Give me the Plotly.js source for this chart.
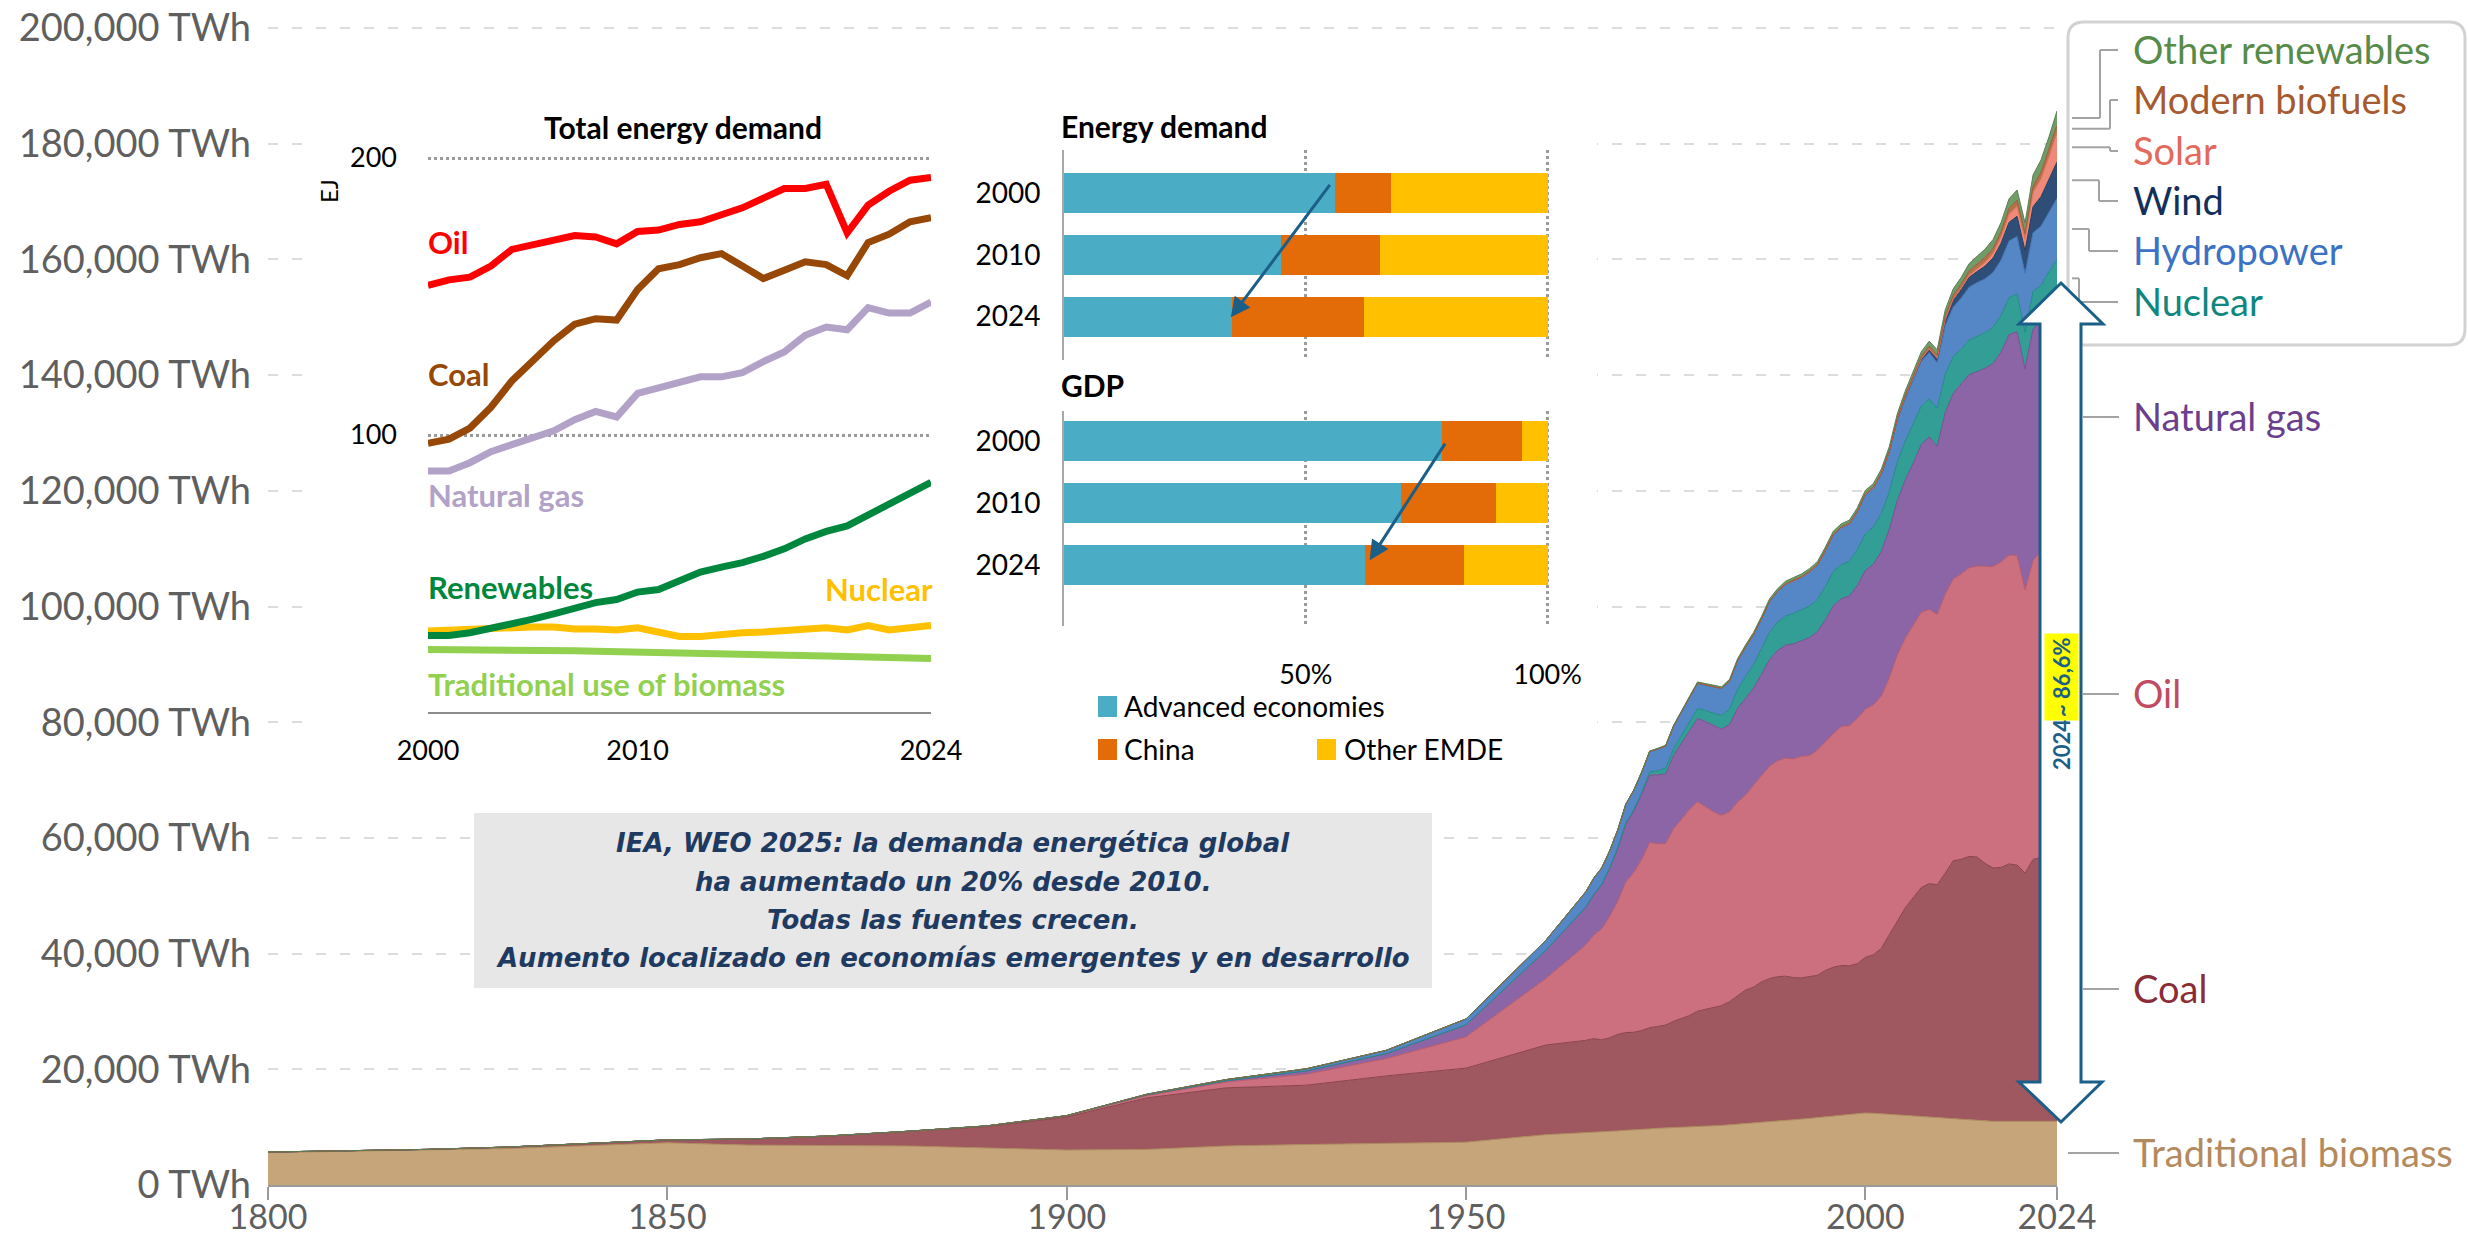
<!DOCTYPE html>
<html><head><meta charset="utf-8">
<script src="https://cdn.plot.ly/plotly-3.0.1.min.js"></script>
<style>html,body{margin:0;padding:0;background:#fff;}#chart{width:2468px;height:1241px;}</style>
</head><body><div id="chart"></div>
<script>
// ---------------- DATA ----------------
const years = [1800,1810,1820,1830,1840,1850,1860,1870,1880,1890,1900,1910,1920,1930,1940,1950,1960,
 1965,1966,1967,1968,1969,1970,1971,1972,1973,1974,1975,1976,1977,1978,1979,
 1980,1981,1982,1983,1984,1985,1986,1987,1988,1989,1990,1991,1992,1993,1994,1995,1996,1997,1998,1999,
 2000,2001,2002,2003,2004,2005,2006,2007,2008,2009,2010,2011,2012,2013,2014,2015,2016,2017,2018,2019,
 2020,2021,2022,2023,2024];

const tradBiomass = [5600,5800,6000,6300,6800,7300,6900,6800,6750,6400,6050,6150,6750,7000,7150,7400,8700,
 9000,9100,9200,9250,9350,9450,9500,9600,9700,9800,9850,9900,9950,10000,10050,
 10100,10200,10300,10400,10500,10600,10700,10800,10900,11000,11100,11250,11400,11500,11650,11800,11950,12050,12200,12350,
 12450,12400,12300,12250,12200,12100,12000,11900,11800,11700,11600,11450,11300,11200,11100,11000,11000,11000,11000,11000,
 11000,11000,11000,11000,11000];
const coal = [100,130,160,260,360,500,1050,1650,2500,3700,5700,8900,10050,10250,11700,12800,15500,
 16000,16200,15900,16200,16700,16900,16900,17100,17500,17600,17800,18400,18900,19300,20000,
 20300,20500,20700,21300,22200,23100,23500,24300,24800,25000,25000,24600,24400,24500,24600,25300,25700,25900,25700,25900,
 26900,27400,28600,31000,33400,35800,37700,39500,40300,40200,42300,44600,45000,45600,45600,44600,43800,43900,44500,44300,
 42900,45300,45600,46000,46200];
const oil = [0,0,0,0,0,0,0,10,30,90,180,380,1000,1900,3000,5400,11500,
 16500,17900,19200,21000,23000,26000,27600,29600,32000,31600,31400,33300,34500,35600,36200,
 35000,33800,32900,32800,33500,33700,34900,35600,36700,37300,37700,37800,38300,38200,38900,39500,40400,41300,41500,42400,
 42900,43200,43600,44400,46000,46600,47000,47600,47400,46700,48200,48700,49300,49900,50300,51300,52100,52800,53400,53500,
 49000,51600,53000,54600,55200];
const naturalGas = [0,0,0,0,0,0,0,0,0,30,60,150,230,580,870,2100,4900,
 6500,7000,7600,8300,9100,10000,10600,11200,11700,11900,12000,12700,13000,13600,14400,
 14700,14900,14900,15100,16200,16700,16800,17600,18400,19100,19500,19900,20000,20400,20500,21100,22100,22100,22400,23000,
 24000,24300,25000,25700,26700,27400,28100,29000,29800,29100,31400,32100,32900,33400,33600,34300,35100,36300,38100,38700,
 38200,40100,39700,40000,41100];
const nuclear = [0,0,0,0,0,0,0,0,0,0,0,0,0,0,0,0,0,
 70,90,110,140,170,220,300,400,530,680,1000,1150,1380,1630,1720,
 1880,2180,2360,2680,3250,3800,4100,4400,4750,4880,5020,5250,5300,5450,5550,5750,5950,5900,6000,6200,
 6300,6450,6550,6450,6700,6700,6800,6650,6600,6500,6650,6350,5950,6000,6100,6150,6250,6300,6400,6550,
 6300,6500,6150,6250,6450];
const hydropower = [0,0,0,0,0,0,0,0,0,0,0,100,200,350,550,1000,1700,
 2600,2750,2800,2900,3050,3200,3300,3450,3500,3800,3850,3900,4000,4200,4400,
 4500,4550,4700,4850,5000,5100,5150,5200,5350,5350,5500,5650,5650,5900,5950,6200,6300,6400,6450,6500,
 6750,6650,6750,6800,7150,7400,7650,7700,8000,7950,8400,8550,8850,9100,9300,9300,9500,9600,9800,9900,
 10200,10100,10300,10200,10600];
const wind = [0,0,0,0,0,0,0,0,0,0,0,0,0,0,0,0,0,
 0,0,0,0,0,0,0,0,0,0,0,0,0,0,0,
 0,0,0,0,0,0,0,0,0,0,10,10,10,20,20,20,30,30,40,60,
 80,100,140,170,220,270,340,430,560,700,950,1200,1450,1700,1900,2200,2500,2900,3200,3500,
 3900,4500,5100,5700,6300];
const solar = [0,0,0,0,0,0,0,0,0,0,0,0,0,0,0,0,0,
 0,0,0,0,0,0,0,0,0,0,0,0,0,0,0,
 0,0,0,0,0,0,0,0,0,0,0,0,0,0,0,0,0,0,0,0,
 3,4,5,7,9,12,16,22,35,55,85,170,260,360,480,640,820,1100,1400,1700,
 2000,2450,3100,4000,5100];
const modernBiofuels = [0,0,0,0,0,0,0,0,0,0,0,0,0,0,0,0,0,
 0,0,0,0,0,0,0,0,0,0,0,0,0,0,0,
 0,0,0,0,0,0,0,0,0,0,90,95,95,100,105,110,110,115,115,120,
 130,150,170,200,230,260,320,400,520,580,680,690,700,760,830,870,880,920,1020,1100,
 1000,1070,1130,1200,1250];
const otherRenewables = [0,0,0,0,0,0,0,0,0,0,0,0,0,0,0,0,0,
 40,45,50,55,60,70,80,90,100,110,120,130,150,170,190,
 200,220,250,280,310,340,360,380,400,420,440,450,460,470,480,490,500,510,520,530,
 560,580,610,640,680,720,760,800,850,900,1000,1080,1170,1260,1340,1420,1500,1580,1660,1740,
 1820,1960,2120,2260,2450];

const mainXTicks = [1800,1850,1900,1950,2000,2024];
const mainYTicks = [0,20000,40000,60000,80000,100000,120000,140000,160000,180000,200000];

// Inset: total energy demand (EJ)
const tedYears = [2000,2001,2002,2003,2004,2005,2006,2007,2008,2009,2010,2011,2012,2013,2014,2015,2016,2017,2018,2019,2020,2021,2022,2023,2024];
const tedOil = [154,156,157,161,167,168.5,170.5,172,171.5,169,173.5,174,176,177,179.5,182,185.5,189,189,190.5,173,183,188,192,193];
const tedCoal = [97,98.5,102.5,110,119.5,126.5,134,140,142,141.5,152.5,160,161.5,164,165.5,161,156.5,159.5,162.5,161.5,157.5,169.5,172.5,177,178.5];
const tedGas = [87,87,90,94,96.5,99,101.5,105.5,108.5,106.5,115,117,119,121,121,122.5,126.5,130,136,139,138,146,144,144,148];
const tedRenew = [27.6,27.6,28.6,30.1,32.0,33.5,35.4,37.5,39.5,40.6,43.3,44.2,47.3,50.5,52.3,53.9,56.2,58.9,62.5,65.2,67.2,71.1,75.1,78.6,82.9];
const tedNuclear = [29.2,29.6,30.0,30.4,30.7,30.7,30.7,30.0,30.0,29.6,30.4,28.6,27.3,27.3,28.2,28.6,28.9,29.2,29.6,30.4,29.6,31.2,29.6,30.1,31.2];
const tedBiomass = [22.6,22.6,22.6,22.5,22.5,22.5,22.4,22.1,21.9,21.8,21.6,21.4,21.0,21.0,21.0,20.7,20.6,20.5,20.3,20.2,20.0,19.9,19.7,19.5,19.3];
const tedXTicks = [2000,2010,2024];
const tedYTicks = [100,200];

// Inset: shares (%)
const shareYears = ['2000','2010','2024'];
const energyAdvanced = [56.0,44.9,34.8];
const energyChina = [11.7,20.5,27.3];
const energyOther = [32.3,34.6,37.9];
const gdpAdvanced = [78.2,69.6,62.2];
const gdpChina = [16.5,19.7,20.5];
const gdpOther = [5.3,10.7,17.3];
const shareTicks = [50,100];
const shareTickText = ['50%','100%'];

// ---------------- GEOMETRY HELPERS ----------------
const W=2468,H=1241;
const PX=x=>x/W, PY=y=>1-y/H;
const YPX=1157/200000;
const M={l:268,r:2057,b:1185};
const YR=[0,201000]; M.t=M.b-YR[1]*YPX;
const XR=[1800,2024];
const dX=px=>XR[0]+(px-M.l)*(XR[1]-XR[0])/(M.r-M.l);
const dY=py=>YR[0]+(M.b-py)/YPX;

const LATO='Lato, sans-serif';
const traces=[];

// ---------------- MAIN STACKED AREA ----------------
const SOURCES=[
 {key:'Traditional biomass', y:tradBiomass, fill:'#c6a57a', line:'#ad8a5c', text:'#b38a5d'},
 {key:'Coal', y:coal, fill:'#9f5760', line:'#8a414b', text:'#8a2d36'},
 {key:'Oil', y:oil, fill:'#cc707f', line:'#b85a6a', text:'#c04b63'},
 {key:'Natural gas', y:naturalGas, fill:'#8b65a5', line:'#74508f', text:'#6b3f8e'},
 {key:'Nuclear', y:nuclear, fill:'#339e96', line:'#1f8a82', text:'#0f877f'},
 {key:'Hydropower', y:hydropower, fill:'#5587c7', line:'#3f72b3', text:'#3b72c4'},
 {key:'Wind', y:wind, fill:'#2f4e77', line:'#1f3a60', text:'#132f5b'},
 {key:'Solar', y:solar, fill:'#ee8a77', line:'#dc7060', text:'#e36a5b'},
 {key:'Modern biofuels', y:modernBiofuels, fill:'#b5714a', line:'#9c5a33', text:'#a55a2f'},
 {key:'Other renewables', y:otherRenewables, fill:'#6f9c69', line:'#5a7f52', text:'#578b4a'}
];
SOURCES.forEach(s=>traces.push({type:'scatter',mode:'lines',x:years,y:s.y,stackgroup:'energy',
  line:{color:s.line,width:1},fillcolor:s.fill,hoverinfo:'skip',showlegend:false,xaxis:'x',yaxis:'y'}));

// ---------------- INSET LINES ----------------
const LINES=[
 {y:tedBiomass,c:'#92d050'},{y:tedNuclear,c:'#ffc000'},{y:tedRenew,c:'#00873e'},
 {y:tedGas,c:'#b3a2c7'},{y:tedCoal,c:'#974706'},{y:tedOil,c:'#ff0000'}];
LINES.forEach(l=>traces.push({type:'scatter',mode:'lines',x:tedYears,y:l.y,line:{color:l.c,width:7},
  hoverinfo:'skip',showlegend:false,xaxis:'x2',yaxis:'y2'}));

// ---------------- INSET BARS ----------------
const BARC={adv:'#4bacc6',chn:'#e36c09',oth:'#ffc000'};
[[energyAdvanced,BARC.adv,'x3','y3'],[energyChina,BARC.chn,'x3','y3'],[energyOther,BARC.oth,'x3','y3'],
 [gdpAdvanced,BARC.adv,'x4','y4'],[gdpChina,BARC.chn,'x4','y4'],[gdpOther,BARC.oth,'x4','y4']].forEach(b=>{
  traces.push({type:'bar',orientation:'h',x:b[0],y:shareYears,marker:{color:b[1],line:{width:0}},
   hoverinfo:'skip',showlegend:false,xaxis:b[2],yaxis:b[3]});
});

// ---------------- SHAPES ----------------
const shapes=[];
shapes.push({type:'rect',xref:'x',yref:'y',x0:dX(305),x1:dX(1597),y0:dY(785),y1:dY(45),
  fillcolor:'#ffffff',line:{width:0},layer:'between'});
shapes.push({type:'rect',xref:'paper',yref:'paper',x0:PX(474),x1:PX(1432),y0:PY(988),y1:PY(813),
  fillcolor:'#e7e7e7',line:{width:0},layer:'above'});
function rr(x0,y0,x1,y1,r){
  const f=(x,y)=>PX(x)+','+PY(y);
  return 'M'+f(x0+r,y0)+' L'+f(x1-r,y0)+' Q'+f(x1,y0)+' '+f(x1,y0+r)+' L'+f(x1,y1-r)+' Q'+f(x1,y1)+' '+f(x1-r,y1)+
   ' L'+f(x0+r,y1)+' Q'+f(x0,y1)+' '+f(x0,y1-r)+' L'+f(x0,y0+r)+' Q'+f(x0,y0)+' '+f(x0+r,y0)+' Z';
}
shapes.push({type:'path',xref:'paper',yref:'paper',path:rr(2068,22,2465,345,16),line:{color:'#d2d2d2',width:3},fillcolor:'rgba(0,0,0,0)',layer:'above'});

const last=years.length-1;
const cum=[];let acc=0;
SOURCES.forEach(s=>{const lo=acc;acc+=s.y[last];cum.push([lo,acc]);});
const annotations=[];
const CONN='#a3a3a3';
function seg(x0,y0,x1,y1){shapes.push({type:'line',xref:'paper',yref:'y',x0:PX(x0),x1:PX(x1),y0:y0,y1:y1,line:{color:CONN,width:2},layer:'above'});}
const topLabels=[[9,50,2100],[8,100,2110],[7,151,2110],[6,201,2099],[5,251,2089],[4,302,2079]];
topLabels.forEach(t=>{
  const mid=(cum[t[0]][0]+cum[t[0]][1])/2;const ly=dY(t[1]);
  seg(2072,mid,t[2],mid);seg(t[2],mid,t[2],ly);seg(t[2],ly,2118,ly);
});
const lowLabels=[[3,417,2083],[2,694,2083],[1,989,2083],[0,1153,2068]];
lowLabels.forEach(t=>{const ly=dY(t[1]);seg(t[2],ly,2119,ly);});
[...topLabels,...lowLabels].forEach(t=>{
  const s=SOURCES[t[0]];
  annotations.push({text:s.key,xref:'paper',yref:'paper',x:PX(2131),y:PY(t[1]-1),xanchor:'left',yanchor:'middle',
   showarrow:false,font:{family:LATO,size:38,color:s.text}});
});

[[1098,696,BARC.adv],[1098,739,BARC.chn],[1317,739,BARC.oth]].forEach(q=>{
  shapes.push({type:'rect',xref:'paper',yref:'paper',x0:PX(q[0]),x1:PX(q[0]+19),y0:PY(q[1]+21),y1:PY(q[1]),fillcolor:q[2],line:{width:0},layer:'above'});
});

(function(){
  const pts=[[2061,283],[2103,324],[2081,324],[2081,1082],[2102,1082],[2061,1122],[2019,1082],[2040,1082],[2040,324],[2019,324]];
  const p='M'+pts.map(q=>PX(q[0])+','+PY(q[1])).join(' L')+' Z';
  shapes.push({type:'path',xref:'paper',yref:'paper',path:p,fillcolor:'#ffffff',line:{color:'#1b5f88',width:3},layer:'above'});
})();

// ---------------- ANNOTATIONS ----------------
function ann(text,x,y,o){return Object.assign({text:text,xref:'paper',yref:'paper',x:PX(x),y:PY(y),showarrow:false,xanchor:'left',yanchor:'middle'},o);}
annotations.push(ann('2024',2061,745,{xanchor:'center',textangle:-90,font:{family:LATO,size:22,weight:700,color:'#1b5f88'}}));
annotations.push(ann('~ 86,6%',2061,677,{xanchor:'center',textangle:-90,bgcolor:'#ffff00',borderpad:3,font:{family:LATO,size:22,weight:700,color:'#1b5f88'}}));

annotations.push(ann('Total energy demand',683,127,{xanchor:'center',font:{family:LATO,size:30,weight:700,color:'#000'}}));
annotations.push(ann('EJ',329,191,{xanchor:'center',textangle:-90,font:{family:LATO,size:24,color:'#000'}}));
annotations.push(ann('Oil',426,242,{font:{family:LATO,size:31,weight:700,color:'#ff0000'}}));
annotations.push(ann('Coal',426,374,{font:{family:LATO,size:31,weight:700,color:'#974706'}}));
annotations.push(ann('Natural gas',426,495,{font:{family:LATO,size:31,weight:700,color:'#b3a2c7'}}));
annotations.push(ann('Renewables',426,587,{font:{family:LATO,size:31,weight:700,color:'#00873e'}}));
annotations.push(ann('Nuclear',935,589,{xanchor:'right',font:{family:LATO,size:31,weight:700,color:'#ffc000'}}));
annotations.push(ann('Traditional use of biomass',426,684,{font:{family:LATO,size:31,weight:700,color:'#92d050'}}));

annotations.push(ann('Energy demand',1059,126,{font:{family:LATO,size:30,weight:700,color:'#000'}}));
annotations.push(ann('GDP',1059,385,{font:{family:LATO,size:30,weight:700,color:'#000'}}));
annotations.push(ann('Advanced economies',1122,706,{font:{family:LATO,size:28,color:'#000'}}));
annotations.push(ann('China',1122,749,{font:{family:LATO,size:28,color:'#000'}}));
annotations.push(ann('Other EMDE',1342,749,{font:{family:LATO,size:28,color:'#000'}}));

annotations.push({xref:'x3',yref:'y3',axref:'x3',ayref:'y3',x:energyAdvanced[2]-0.3,y:2.01,ax:energyAdvanced[0]-0.8,ay:-0.15,
  text:'',showarrow:true,arrowhead:2,arrowsize:1.3,arrowwidth:3,arrowcolor:'#1b5f88'});
annotations.push({xref:'x4',yref:'y4',axref:'x4',ayref:'y4',x:gdpAdvanced[2]+1.0,y:1.92,ax:gdpAdvanced[0]+0.8,ay:0.02,
  text:'',showarrow:true,arrowhead:2,arrowsize:1.3,arrowwidth:3,arrowcolor:'#1b5f88'});

const BOXF={family:'DejaVu Sans, sans-serif',size:26,weight:700,style:'italic',color:'#1f3a60'};
[['IEA, WEO 2025: la demanda energética global',843],['ha aumentado un 20% desde 2010.',882],
 ['Todas las fuentes crecen.',920],['Aumento localizado en economías emergentes y en desarrollo',958]].forEach(l=>{
  annotations.push(ann(l[0],953,l[1],{xanchor:'center',font:BOXF}));
});

// ---------------- LAYOUT ----------------
const BPX=4.836, BR=[0,101];
const barDomX=[PX(1064),PX(1064+BR[1]*BPX)];
const EJPX=2.77, TR=[0,202];
const layout={
 width:W,height:H,margin:{l:0,r:0,t:0,b:0},paper_bgcolor:'#ffffff',plot_bgcolor:'rgba(0,0,0,0)',
 showlegend:false,barmode:'stack',bargap:0.355,
 xaxis:{domain:[PX(M.l),PX(M.r)],range:XR,anchor:'y',tickvals:mainXTicks,ticktext:mainXTicks.map(String),
   ticks:'outside',ticklen:13,tickwidth:2,tickcolor:'#9a9a9a',showline:true,linecolor:'#9a9a9a',linewidth:2,
   showgrid:false,zeroline:false,ticklabelstandoff:-12,tickfont:{family:LATO,size:34,color:'#5f5f5f'}},
 yaxis:{domain:[PY(M.b),PY(M.t)],range:YR,anchor:'x',tickvals:mainYTicks,
   ticktext:mainYTicks.map(v=>v.toLocaleString('en-US')+' TWh'),
   showgrid:true,gridcolor:'#dcdcdc',gridwidth:2,griddash:'10px,14px',zeroline:false,showline:false,ticks:'',
   ticklabelstandoff:16,tickfont:{family:LATO,size:38,color:'#5f5f5f'}},
 xaxis2:{domain:[PX(428),PX(931)],range:[2000,2024],anchor:'y2',tickvals:tedXTicks,ticks:'',showline:true,
   linecolor:'#8c8c8c',linewidth:2,showgrid:false,zeroline:false,ticklabelstandoff:14,tickfont:{family:LATO,size:27,color:'#000'}},
 yaxis2:{domain:[PY(712),PY(712-TR[1]*EJPX)],range:TR,anchor:'x2',tickvals:tedYTicks,ticks:'',showline:false,zeroline:false,
   showgrid:true,gridcolor:'#9a9a9a',gridwidth:3,griddash:'dot',ticklabelstandoff:30,tickfont:{family:LATO,size:27,color:'#000'}},
 xaxis3:{domain:barDomX,range:BR,anchor:'y3',tickvals:shareTicks,showticklabels:false,ticks:'',showline:false,zeroline:false,
   showgrid:true,gridcolor:'#9a9a9a',gridwidth:3,griddash:'dot'},
 yaxis3:{domain:[PY(360),PY(150)],type:'category',categoryarray:shareYears,range:[2.70,-0.69],anchor:'x3',ticks:'',
   showline:true,linecolor:'#a8a8a8',linewidth:2,showgrid:false,zeroline:false,ticklabelstandoff:16,tickfont:{family:LATO,size:28,color:'#000'}},
 xaxis4:{domain:barDomX,range:BR,anchor:'y4',tickvals:shareTicks,ticktext:shareTickText,ticks:'',showline:false,zeroline:false,
   showgrid:true,gridcolor:'#9a9a9a',gridwidth:3,griddash:'dot',ticklabelstandoff:30,tickfont:{family:LATO,size:27,color:'#000'}},
 yaxis4:{domain:[PY(626),PY(411)],type:'category',categoryarray:shareYears,range:[2.98,-0.48],anchor:'x4',ticks:'',
   showline:true,linecolor:'#a8a8a8',linewidth:2,showgrid:false,zeroline:false,ticklabelstandoff:16,tickfont:{family:LATO,size:28,color:'#000'}},
 shapes:shapes,annotations:annotations
};
Plotly.newPlot('chart',traces,layout,{displayModeBar:false,staticPlot:true});
</script></body></html>
